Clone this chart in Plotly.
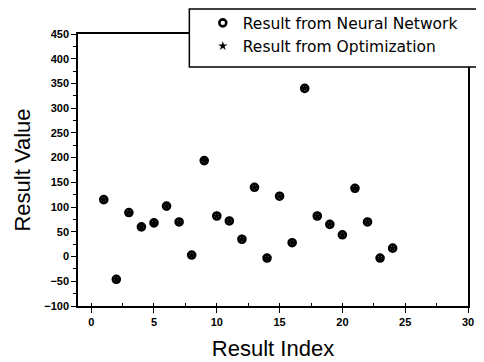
import plotly.graph_objects as go

# ---- data ----
result_index = list(range(1, 25))
neural_network = [115, -46, 89, 60, 68, 102, 70, 3, 194, 82, 72, 35,
                  140, -3, 122, 28, 340, 82, 65, 44, 138, 70, -3, 17]
optimization = [115, -46, 89, 60, 68, 102, 70, 3, 194, 82, 72, 35,
                140, -3, 122, 28, 340, 82, 65, 44, 138, 70, -3, 17]

x_title = "Result Index"
y_title = "Result Value"
series_names = ["Result from Neural Network", "Result from Optimization"]

FONT = "Liberation Sans, Arial, sans-serif"

fig = go.Figure()
fig.add_trace(go.Scatter(
    x=result_index, y=neural_network, mode="markers", name=series_names[0],
    marker=dict(symbol="circle-open", size=7, color="black",
                line=dict(width=2.6, color="black")),
))
fig.add_trace(go.Scatter(
    x=result_index, y=optimization, mode="markers", name=series_names[1],
    marker=dict(symbol="star", size=7, color="black",
                line=dict(width=0)),
))

axis_common = dict(
    showline=True, linecolor="black", linewidth=1.5, mirror=True,
    showgrid=False, zeroline=False,
    ticks="outside", ticklen=5, tickwidth=1.2, tickcolor="black",
    tickfont=dict(family=FONT, size=11, color="black", weight="bold"),
    title_font=dict(family=FONT, size=22, color="black"),
    automargin=False,
)

fig.update_xaxes(
    range=[-1.05, 30], tickmode="linear", tick0=0, dtick=5,
    minor=dict(ticks="inside", ticklen=3, tickwidth=1, tickcolor="black", dtick=2.5, tick0=0),
    title=dict(text=x_title, standoff=14),
    **axis_common,
)
fig.update_yaxes(
    range=[-100, 450], tickmode="linear", tick0=-100, dtick=50,
    minor=dict(ticks="outside", ticklen=3, tickwidth=1, tickcolor="black", dtick=25, tick0=0),
    title=dict(text=y_title, standoff=8),
    **axis_common,
)

# legend frame (opaque, covering the top-right part of the plot frame)
fig.add_shape(type="rect", xref="paper", yref="paper",
              x0=0.2855, x1=1.07, y0=0.8787, y1=1.0919,
              line=dict(color="black", width=1.5), fillcolor="white",
              layer="above")

fig.update_layout(
    width=476, height=354,
    margin=dict(l=70, r=16, t=26, b=56, autoexpand=False),
    paper_bgcolor="white", plot_bgcolor="white",
    font=dict(family=FONT, color="black"),
    showlegend=True,
    legend=dict(
        x=0.32, y=1.102, xanchor="left", yanchor="top",
        bgcolor="rgba(0,0,0,0)", borderwidth=0,
        font=dict(family="DejaVu Sans, sans-serif", size=15.5, color="black"),
        tracegroupgap=0,
    ),
)

fig.write_html("out.html")
